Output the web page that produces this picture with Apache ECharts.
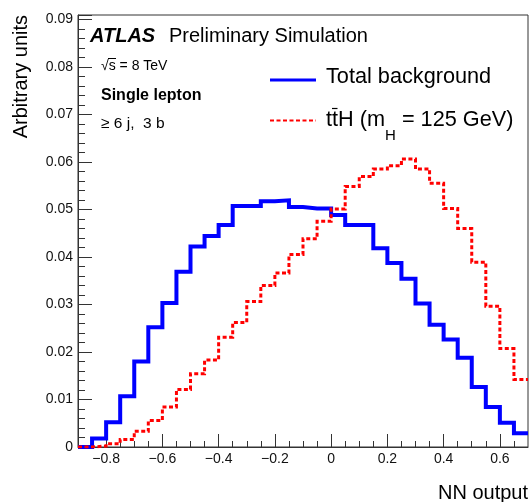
<!DOCTYPE html>
<html>
<head>
<meta charset="utf-8">
<script src="https://cdn.jsdelivr.net/npm/echarts@6/dist/echarts.min.js"></script>
<style>
html,body{margin:0;padding:0;background:#fff;}
#chart{width:531px;height:502px;}
</style>
</head>
<body>
<div id="chart"></div>
<script>
// Bin edges of the NN output histogram
const binEdges = [-0.9,-0.85,-0.8,-0.75,-0.7,-0.65,-0.6,-0.55,-0.5,-0.45,-0.4,-0.35,-0.3,-0.25,-0.2,-0.15,-0.1,-0.05,0,0.05,0.1,0.15,0.2,0.25,0.3,0.35,0.4,0.45,0.5,0.55,0.6,0.65,0.7];
// Bin contents (arbitrary units)
const totalBackground = [0.0,0.0018,0.0052,0.0107,0.0180,0.0252,0.0303,0.0369,0.0422,0.0444,0.0467,0.0507,0.0507,0.0517,0.0519,0.0505,0.0502,0.0502,0.0488,0.0467,0.0467,0.0418,0.0387,0.0354,0.0302,0.0257,0.0226,0.0188,0.0126,0.0084,0.0051,0.0029];
const ttH = [0.0,0.0002,0.0007,0.0016,0.0033,0.0056,0.0084,0.0121,0.0154,0.0183,0.0231,0.0262,0.0306,0.0340,0.0366,0.0405,0.0438,0.0475,0.0501,0.0548,0.0569,0.0585,0.0592,0.0606,0.0585,0.0555,0.0502,0.0460,0.0389,0.0296,0.0207,0.0142];
// Axis tick labels
const xLabels = [-0.8,-0.6,-0.4,-0.2,0,0.2,0.4,0.6];
const xMinorTicks = [-0.85,-0.8,-0.75,-0.7,-0.65,-0.6,-0.55,-0.5,-0.45,-0.4,-0.35,-0.3,-0.25,-0.2,-0.15,-0.1,-0.05,0,0.05,0.1,0.15,0.2,0.25,0.3,0.35,0.4,0.45,0.5,0.55,0.6,0.65];
const yLabels = [0,0.01,0.02,0.03,0.04,0.05,0.06,0.07,0.08,0.09];

function histPoints(vals){
  const pts = vals.map((v,i)=>[binEdges[i], v]);
  pts.push([binEdges[binEdges.length-1], vals[vals.length-1]]);
  return pts;
}

const FONT = '"Liberation Sans", Arial, Helvetica, sans-serif';
const fmtX = v => { if (Math.abs(v) < 1e-9) return '0'; return (v<0?'\u2212':'') + Math.abs(v).toFixed(1); };
const fmtY = v => { if (Math.abs(v) < 1e-9) return '0'; return v.toFixed(2); };

const chart = echarts.init(document.getElementById('chart'), null, {renderer:'canvas'});
const option = {
  animation:false,
  backgroundColor:'#fff',
  grid:{left:78, right:3, top:15, bottom:55, show:true, borderColor:'#333', borderWidth:1, backgroundColor:'transparent'},
  xAxis:[{
    type:'value', min:-0.9, max:0.7, interval:0.05,
    axisLine:{show:true, onZero:false, lineStyle:{color:'#333', width:1}},
    axisTick:{show:true, inside:true, length:6, customValues:xMinorTicks, lineStyle:{color:'#333'}},
    axisLabel:{show:true, customValues:xLabels, formatter:fmtX, fontSize:14, color:'#111', fontFamily:FONT, margin:5},
    splitLine:{show:false}
  },{
    type:'value', min:-0.9, max:0.7, position:'bottom', gridIndex:0,
    axisLine:{show:false, onZero:false},
    axisTick:{show:true, inside:true, length:13, customValues:xLabels, lineStyle:{color:'#333'}},
    axisLabel:{show:false},
    splitLine:{show:false}
  }],
  yAxis:{
    type:'value', min:0, max:0.0909, interval:0.01,
    axisLine:{show:true, onZero:false, lineStyle:{color:'#333', width:1}},
    axisTick:{show:true, inside:true, length:14, lineStyle:{color:'#333'}},
    minorTick:{show:true, splitNumber:5, length:7, lineStyle:{color:'#333'}},
    axisLabel:{customValues:yLabels, formatter:fmtY, fontSize:14, color:'#111', fontFamily:FONT, margin:5},
    splitLine:{show:false}
  },
  series:[{
    name:'Total background', type:'line', step:'end', symbol:'none',
    data:histPoints(totalBackground),
    lineStyle:{color:'#0000ff', width:4, join:'miter', cap:'butt'},
    z:3
  },{
    name:'ttH', type:'line', step:'end', symbol:'none',
    data:histPoints(ttH),
    lineStyle:{color:'#ff0000', width:3, type:[4,2.5], join:'miter', cap:'butt'},
    z:4
  }],
  graphic:[
    {type:'text', x:90, y:36, style:{text:'ATLAS', font:'italic bold 20px '+FONT, fill:'#000', verticalAlign:'middle'}},
    {type:'text', x:169, y:36, style:{text:'Preliminary Simulation', font:'20px '+FONT, fill:'#000', verticalAlign:'middle'}},
    {type:'text', x:101, y:66, style:{text:'\u221As = 8 TeV', font:'14px '+FONT, fill:'#000', verticalAlign:'middle'}},
    {type:'line', shape:{x1:108, y1:58.5, x2:116, y2:58.5}, style:{stroke:'#000', lineWidth:1}},
    {type:'text', x:101, y:96, style:{text:'Single lepton', font:'bold 16px '+FONT, fill:'#000', verticalAlign:'middle'}},
    {type:'text', x:101, y:124, style:{text:'\u2265 6 j,  3 b', font:'15.5px '+FONT, fill:'#000', verticalAlign:'middle'}},
    {type:'line', shape:{x1:270, y1:80, x2:316, y2:80}, style:{stroke:'#0000ff', lineWidth:3}},
    {type:'text', x:326, y:77.5, style:{text:'Total background', font:'21.7px '+FONT, fill:'#000', verticalAlign:'middle'}},
    {type:'line', shape:{x1:270, y1:120.5, x2:316, y2:120.5}, style:{stroke:'#ff0000', lineWidth:2, lineDash:[4,2.5]}},
    {type:'text', x:326, y:120, style:{
      text:'tt{h|H} (m{sub|H} = 125 GeV)',
      font:'21.7px '+FONT, fill:'#000', verticalAlign:'middle',
      rich:{
        h:{font:'21.7px '+FONT, fill:'#000'},
        sub:{font:'15px '+FONT, fill:'#000', padding:[32,0,0,0]}
      }
    }},
    {type:'line', shape:{x1:332, y1:108.5, x2:337.5, y2:108.5}, style:{stroke:'#000', lineWidth:1.2}},
    {type:'text', x:21, y:15, rotation:Math.PI/2, style:{text:'Arbitrary units', font:'20px '+FONT, fill:'#000', align:'right', verticalAlign:'middle'}},
    {type:'text', x:528, y:493, style:{text:'NN output', font:'20px '+FONT, fill:'#000', align:'right', verticalAlign:'middle'}}
  ]
};
chart.setOption(option);
</script>
</body>
</html>
